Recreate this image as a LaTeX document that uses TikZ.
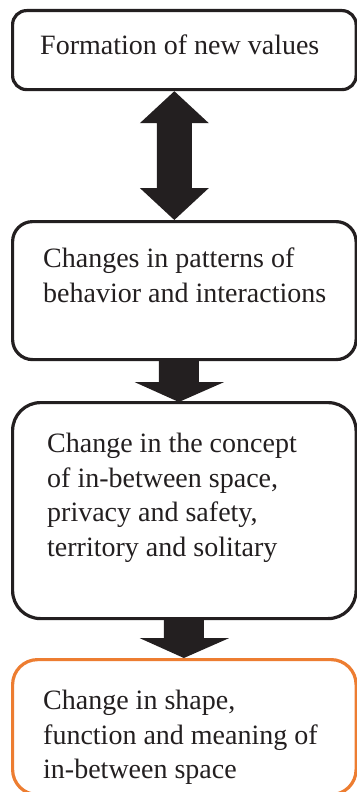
\documentclass[tikz,border=0pt]{standalone}
\usepackage{fontspec}
\setmainfont{Liberation Serif}
\usetikzlibrary{calc}
\definecolor{ink}{HTML}{231F20}
\definecolor{accent}{HTML}{ED7D31}
\begin{document}
\begin{tikzpicture}[x=1pt,y=-1pt,
  frame/.style={draw=ink, line width=3.2pt, fill=white, rounded corners=#1,
    minimum width=343.5pt, anchor=north west, inner sep=0pt},
  boxtext/.style={anchor=north west, inner sep=0pt, align=left, text=ink,
    font=\fontsize{28pt}{34.5pt}\selectfont},
  arrowfill/.style={fill=ink, draw=none}]
\useasboundingbox (0,0) rectangle (356,792);

% boxes
\node[frame=14pt, minimum height=79pt] (b1) at (11,9) {};
\node[frame=20pt, minimum height=138pt] (b2) at (11,220) {};
\node[frame=28pt, minimum height=216pt] (b3) at (11,401) {};
\node[frame=25pt, minimum height=135pt, draw=accent] (b4) at (11,658) {};

% texts
\node[boxtext] (t1) at (40,35) {Formation of new values};
\node[boxtext] (t2) at (43,248) {Changes in patterns of\\behavior and interactions};
\node[boxtext] (t3) at (47,433) {Change in the concept\\of in-between space,\\privacy and safety,\\territory and solitary};
\node[boxtext] (t4) at (43,690) {Change in shape,\\function and meaning of\\in-between space};

% double arrow b1 <-> b2
\fill[arrowfill] ($(b1.south)+(-10,0)$) -- ($(b1.south)+(24.5,32)$) -- ($(b1.south)+(7.5,32)$)
  -- ($(b2.north)+(7.5,-32)$) -- ($(b2.north)+(24.5,-32)$) -- ($(b2.north)+(-10,0)$)
  -- ($(b2.north)+(-44.5,-32)$) -- ($(b2.north)+(-27.5,-32)$)
  -- ($(b1.south)+(-27.5,32)$) -- ($(b1.south)+(-44.5,32)$) -- cycle;

% arrow b2 -> b3
\fill[arrowfill] ($(b2.south)+(-25.5,0)$) -- ($(b2.south)+(14.5,0)$) -- ($(b2.south)+(14.5,21)$)
  -- ($(b2.south)+(39.5,21)$) -- ($(b3.north)+(-5.5,1)$) -- ($(b2.south)+(-49.5,21)$)
  -- ($(b2.south)+(-25.5,21)$) -- cycle;

% arrow b3 -> b4
\fill[arrowfill] ($(b3.south)+(-20.5,0)$) -- ($(b3.south)+(19.5,0)$) -- ($(b3.south)+(19.5,18)$)
  -- ($(b3.south)+(44.5,18)$) -- ($(b4.north)+(-0.5,0)$) -- ($(b3.south)+(-44.5,18)$)
  -- ($(b3.south)+(-20.5,18)$) -- cycle;
\end{tikzpicture}
\end{document}
